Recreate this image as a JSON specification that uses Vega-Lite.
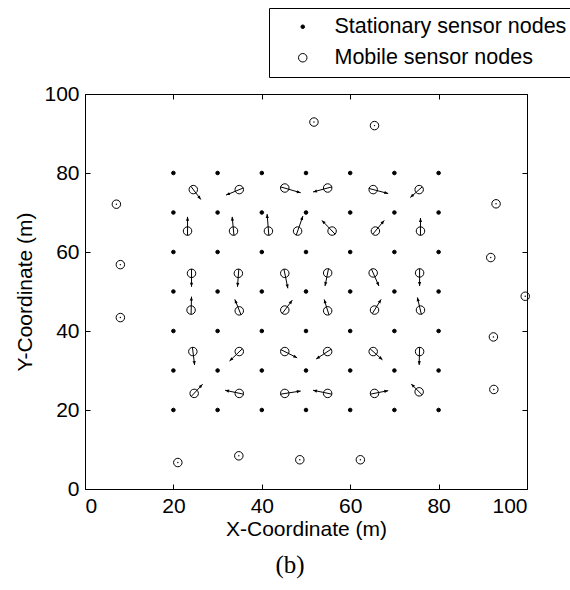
{
  "$schema": "https://vega.github.io/schema/vega-lite/v6.json",
  "width": 442,
  "height": 395,
  "autosize": {"type": "none"},
  "padding": {"left": 85, "top": 94, "right": 43, "bottom": 101},
  "background": "white",
  "config": {
    "view": {"stroke": "black", "strokeWidth": 1},
    "font": "Liberation Sans",
    "axis": {
      "grid": false,
      "domain": false,
      "tickColor": "black",
      "tickWidth": 1,
      "labelColor": "black",
      "labelFont": "Liberation Sans",
      "labelFontSize": 21,
      "titleFont": "Liberation Sans",
      "titleFontSize": 21,
      "titleFontWeight": "normal",
      "titleColor": "black"
    }
  },
  "title": {
    "text": "(b)",
    "orient": "bottom",
    "anchor": "middle",
    "font": "Liberation Serif",
    "fontSize": 25,
    "fontWeight": "normal",
    "color": "black",
    "offset": 14,
    "dx": -16
  },
  "data": {
    "values": [
      {"type": "Stationary sensor nodes", "x": 20, "y": 20}, {"type": "Stationary sensor nodes", "x": 30, "y": 20}, {"type": "Stationary sensor nodes", "x": 40, "y": 20}, {"type": "Stationary sensor nodes", "x": 50, "y": 20}, {"type": "Stationary sensor nodes", "x": 60, "y": 20}, {"type": "Stationary sensor nodes", "x": 70, "y": 20}, {"type": "Stationary sensor nodes", "x": 80, "y": 20},
      {"type": "Stationary sensor nodes", "x": 20, "y": 30}, {"type": "Stationary sensor nodes", "x": 30, "y": 30}, {"type": "Stationary sensor nodes", "x": 40, "y": 30}, {"type": "Stationary sensor nodes", "x": 50, "y": 30}, {"type": "Stationary sensor nodes", "x": 60, "y": 30}, {"type": "Stationary sensor nodes", "x": 70, "y": 30}, {"type": "Stationary sensor nodes", "x": 80, "y": 30},
      {"type": "Stationary sensor nodes", "x": 20, "y": 40}, {"type": "Stationary sensor nodes", "x": 30, "y": 40}, {"type": "Stationary sensor nodes", "x": 40, "y": 40}, {"type": "Stationary sensor nodes", "x": 50, "y": 40}, {"type": "Stationary sensor nodes", "x": 60, "y": 40}, {"type": "Stationary sensor nodes", "x": 70, "y": 40}, {"type": "Stationary sensor nodes", "x": 80, "y": 40},
      {"type": "Stationary sensor nodes", "x": 20, "y": 50}, {"type": "Stationary sensor nodes", "x": 30, "y": 50}, {"type": "Stationary sensor nodes", "x": 40, "y": 50}, {"type": "Stationary sensor nodes", "x": 50, "y": 50}, {"type": "Stationary sensor nodes", "x": 60, "y": 50}, {"type": "Stationary sensor nodes", "x": 70, "y": 50}, {"type": "Stationary sensor nodes", "x": 80, "y": 50},
      {"type": "Stationary sensor nodes", "x": 20, "y": 60}, {"type": "Stationary sensor nodes", "x": 30, "y": 60}, {"type": "Stationary sensor nodes", "x": 40, "y": 60}, {"type": "Stationary sensor nodes", "x": 50, "y": 60}, {"type": "Stationary sensor nodes", "x": 60, "y": 60}, {"type": "Stationary sensor nodes", "x": 70, "y": 60}, {"type": "Stationary sensor nodes", "x": 80, "y": 60},
      {"type": "Stationary sensor nodes", "x": 20, "y": 70}, {"type": "Stationary sensor nodes", "x": 30, "y": 70}, {"type": "Stationary sensor nodes", "x": 40, "y": 70}, {"type": "Stationary sensor nodes", "x": 50, "y": 70}, {"type": "Stationary sensor nodes", "x": 60, "y": 70}, {"type": "Stationary sensor nodes", "x": 70, "y": 70}, {"type": "Stationary sensor nodes", "x": 80, "y": 70},
      {"type": "Stationary sensor nodes", "x": 20, "y": 80}, {"type": "Stationary sensor nodes", "x": 30, "y": 80}, {"type": "Stationary sensor nodes", "x": 40, "y": 80}, {"type": "Stationary sensor nodes", "x": 50, "y": 80}, {"type": "Stationary sensor nodes", "x": 60, "y": 80}, {"type": "Stationary sensor nodes", "x": 70, "y": 80}, {"type": "Stationary sensor nodes", "x": 80, "y": 80},
      {"type": "Mobile sensor nodes", "x": 51.8, "y": 92.9}, {"type": "Mobile sensor nodes", "x": 65.5, "y": 92.0},
      {"type": "Mobile sensor nodes", "x": 7.1, "y": 72.1}, {"type": "Mobile sensor nodes", "x": 8.0, "y": 56.8}, {"type": "Mobile sensor nodes", "x": 8.0, "y": 43.4},
      {"type": "Mobile sensor nodes", "x": 93.0, "y": 72.2}, {"type": "Mobile sensor nodes", "x": 91.8, "y": 58.6}, {"type": "Mobile sensor nodes", "x": 99.6, "y": 48.8}, {"type": "Mobile sensor nodes", "x": 92.4, "y": 38.5}, {"type": "Mobile sensor nodes", "x": 92.5, "y": 25.2},
      {"type": "Mobile sensor nodes", "x": 21.0, "y": 6.7}, {"type": "Mobile sensor nodes", "x": 34.8, "y": 8.4}, {"type": "Mobile sensor nodes", "x": 48.6, "y": 7.4}, {"type": "Mobile sensor nodes", "x": 62.3, "y": 7.4},
      {"type": "Mobile sensor nodes", "x": 24.5, "y": 75.8, "x0": 23.9, "y0": 76.7, "x1": 26.2, "y1": 73.3, "heading": 144},
      {"type": "Mobile sensor nodes", "x": 34.9, "y": 75.8, "x0": 35.8, "y0": 76.2, "x1": 31.9, "y1": 74.4, "heading": 247},
      {"type": "Mobile sensor nodes", "x": 45.2, "y": 76.2, "x0": 44.2, "y0": 76.5, "x1": 48.8, "y1": 75.0, "heading": 106},
      {"type": "Mobile sensor nodes", "x": 54.9, "y": 76.2, "x0": 55.9, "y0": 76.5, "x1": 51.6, "y1": 75.2, "heading": 255},
      {"type": "Mobile sensor nodes", "x": 65.2, "y": 75.8, "x0": 64.2, "y0": 76.1, "x1": 68.6, "y1": 74.8, "heading": 105},
      {"type": "Mobile sensor nodes", "x": 75.6, "y": 75.8, "x0": 76.3, "y0": 76.5, "x1": 73.6, "y1": 73.8, "heading": 227},
      {"type": "Mobile sensor nodes", "x": 23.2, "y": 65.3, "x0": 23.2, "y0": 64.2, "x1": 23.2, "y1": 68.9, "heading": 0},
      {"type": "Mobile sensor nodes", "x": 33.6, "y": 65.3, "x0": 33.7, "y0": 64.2, "x1": 33.3, "y1": 68.9, "heading": -4},
      {"type": "Mobile sensor nodes", "x": 41.5, "y": 65.3, "x0": 41.6, "y0": 64.2, "x1": 41.2, "y1": 69.6, "heading": -3},
      {"type": "Mobile sensor nodes", "x": 48.1, "y": 65.3, "x0": 47.8, "y0": 64.3, "x1": 49.3, "y1": 69.1, "heading": 20},
      {"type": "Mobile sensor nodes", "x": 55.9, "y": 65.3, "x0": 56.6, "y0": 64.5, "x1": 53.6, "y1": 68.0, "heading": -44},
      {"type": "Mobile sensor nodes", "x": 65.7, "y": 65.3, "x0": 65.1, "y0": 64.5, "x1": 67.7, "y1": 68.0, "heading": 40},
      {"type": "Mobile sensor nodes", "x": 75.9, "y": 65.3, "x0": 75.9, "y0": 64.2, "x1": 75.9, "y1": 68.6, "heading": 0},
      {"type": "Mobile sensor nodes", "x": 24.1, "y": 54.6, "x0": 24.1, "y0": 55.7, "x1": 24.1, "y1": 51.2, "heading": 180},
      {"type": "Mobile sensor nodes", "x": 34.7, "y": 54.6, "x0": 34.8, "y0": 55.7, "x1": 34.5, "y1": 51.2, "heading": 184},
      {"type": "Mobile sensor nodes", "x": 45.2, "y": 54.6, "x0": 45.0, "y0": 55.7, "x1": 45.9, "y1": 50.8, "heading": 168},
      {"type": "Mobile sensor nodes", "x": 54.9, "y": 54.7, "x0": 55.1, "y0": 55.8, "x1": 54.3, "y1": 51.4, "heading": 192},
      {"type": "Mobile sensor nodes", "x": 65.2, "y": 54.7, "x0": 64.8, "y0": 55.7, "x1": 66.5, "y1": 51.4, "heading": 156},
      {"type": "Mobile sensor nodes", "x": 75.7, "y": 54.7, "x0": 75.7, "y0": 55.8, "x1": 75.7, "y1": 51.4, "heading": 180},
      {"type": "Mobile sensor nodes", "x": 24.0, "y": 45.3, "x0": 24.0, "y0": 44.2, "x1": 24.1, "y1": 48.7, "heading": 3},
      {"type": "Mobile sensor nodes", "x": 34.9, "y": 45.1, "x0": 35.3, "y0": 44.1, "x1": 33.9, "y1": 48.0, "heading": -22},
      {"type": "Mobile sensor nodes", "x": 45.2, "y": 45.3, "x0": 44.6, "y0": 44.4, "x1": 46.9, "y1": 47.8, "heading": 37},
      {"type": "Mobile sensor nodes", "x": 54.9, "y": 45.1, "x0": 55.2, "y0": 44.1, "x1": 54.1, "y1": 48.0, "heading": -18},
      {"type": "Mobile sensor nodes", "x": 65.5, "y": 45.3, "x0": 65.0, "y0": 44.4, "x1": 67.0, "y1": 48.0, "heading": 32},
      {"type": "Mobile sensor nodes", "x": 75.9, "y": 45.3, "x0": 76.1, "y0": 44.2, "x1": 75.2, "y1": 48.5, "heading": -13},
      {"type": "Mobile sensor nodes", "x": 24.4, "y": 34.8, "x0": 24.3, "y0": 35.9, "x1": 24.8, "y1": 31.4, "heading": 173},
      {"type": "Mobile sensor nodes", "x": 34.9, "y": 34.8, "x0": 35.6, "y0": 35.5, "x1": 32.7, "y1": 32.4, "heading": 227},
      {"type": "Mobile sensor nodes", "x": 45.2, "y": 34.8, "x0": 44.3, "y0": 35.3, "x1": 48.0, "y1": 33.2, "heading": 117},
      {"type": "Mobile sensor nodes", "x": 54.9, "y": 34.8, "x0": 55.7, "y0": 35.4, "x1": 52.3, "y1": 32.9, "heading": 237},
      {"type": "Mobile sensor nodes", "x": 65.2, "y": 34.8, "x0": 64.5, "y0": 35.5, "x1": 67.3, "y1": 32.7, "heading": 132},
      {"type": "Mobile sensor nodes", "x": 75.7, "y": 34.8, "x0": 75.7, "y0": 35.9, "x1": 75.6, "y1": 31.4, "heading": 183},
      {"type": "Mobile sensor nodes", "x": 24.7, "y": 24.2, "x0": 24.0, "y0": 23.4, "x1": 26.6, "y1": 26.5, "heading": 44},
      {"type": "Mobile sensor nodes", "x": 34.9, "y": 24.2, "x0": 35.9, "y0": 24.0, "x1": 31.7, "y1": 25.0, "heading": -77},
      {"type": "Mobile sensor nodes", "x": 45.2, "y": 24.2, "x0": 44.2, "y0": 24.0, "x1": 48.8, "y1": 24.8, "heading": 82},
      {"type": "Mobile sensor nodes", "x": 54.9, "y": 24.2, "x0": 55.9, "y0": 24.0, "x1": 51.6, "y1": 25.0, "heading": -77},
      {"type": "Mobile sensor nodes", "x": 65.5, "y": 24.2, "x0": 64.5, "y0": 24.0, "x1": 68.6, "y1": 24.9, "heading": 79},
      {"type": "Mobile sensor nodes", "x": 75.6, "y": 24.6, "x0": 76.3, "y0": 23.8, "x1": 73.8, "y1": 26.6, "heading": -45}
    ]
  },
  "layer": [
    {
      "mark": {"type": "point", "filled": true, "stroke": "black", "strokeWidth": 1, "opacity": 1},
      "encoding": {
        "x": {
          "field": "x", "type": "quantitative",
          "scale": {"domain": [0, 100], "nice": false, "zero": false},
          "axis": {"orient": "bottom", "values": [0, 20, 40, 60, 80, 100], "tickSize": -5, "labelPadding": 11, "title": "X-Coordinate (m)", "titlePadding": 2}
        },
        "y": {
          "field": "y", "type": "quantitative",
          "scale": {"domain": [0, 100], "nice": false, "zero": false},
          "axis": {"orient": "left", "values": [0, 20, 40, 60, 80, 100], "tickSize": -5, "labelPadding": 11, "title": "Y-Coordinate (m)", "titlePadding": 8}
        },
        "fill": {
          "field": "type", "type": "nominal",
          "scale": {"domain": ["Stationary sensor nodes", "Mobile sensor nodes"], "range": ["black", "transparent"]},
          "legend": {
            "title": null, "orient": "none", "legendX": 184, "legendY": -86,
            "strokeColor": "black", "fillColor": "white", "padding": 8, "cornerRadius": 0,
            "labelFont": "Liberation Sans", "labelFontSize": 21.5, "labelColor": "black", "labelLimit": 0,
            "symbolStrokeColor": "black", "symbolStrokeWidth": 1,
            "rowPadding": 8, "symbolOffset": 15, "labelOffset": 21
          }
        },
        "size": {
          "field": "type", "type": "nominal",
          "scale": {"domain": ["Stationary sensor nodes", "Mobile sensor nodes"], "range": [13, 72]}
        },
        "shape": {
          "field": "type", "type": "nominal",
          "scale": {"domain": ["Stationary sensor nodes", "Mobile sensor nodes"], "range": ["circle", "circle"]}
        }
      }
    },
    {
      "transform": [{"filter": "isValid(datum.heading)"}],
      "mark": {"type": "rule", "color": "black", "strokeWidth": 1},
      "encoding": {
        "x": {
          "field": "x0", "type": "quantitative",
          "scale": {"domain": [0, 100], "nice": false, "zero": false},
          "axis": {"orient": "top", "values": [0, 20, 40, 60, 80, 100], "tickSize": -5, "labels": false, "title": null}
        },
        "y": {
          "field": "y0", "type": "quantitative",
          "scale": {"domain": [0, 100], "nice": false, "zero": false},
          "axis": {"orient": "right", "values": [0, 20, 40, 60, 80, 100], "tickSize": -5, "labels": false, "title": null}
        },
        "x2": {"field": "x1"},
        "y2": {"field": "y1"}
      }
    },
    {
      "transform": [{"filter": "isValid(datum.heading)"}],
      "mark": {"type": "point", "shape": "M0,0L-0.45,1.1L0.45,1.1Z", "filled": true, "color": "black", "size": 50, "opacity": 1},
      "encoding": {
        "x": {"field": "x1", "type": "quantitative", "scale": {"domain": [0, 100], "nice": false, "zero": false}, "axis": null},
        "y": {"field": "y1", "type": "quantitative", "scale": {"domain": [0, 100], "nice": false, "zero": false}, "axis": null},
        "angle": {"field": "heading", "type": "quantitative", "scale": null}
      }
    },
    {
      "transform": [{"filter": "datum.type == 'Mobile sensor nodes' && !isValid(datum.heading)"}],
      "mark": {"type": "point", "shape": "circle", "filled": true, "color": "black", "size": 2, "opacity": 1},
      "encoding": {
        "x": {"field": "x", "type": "quantitative", "scale": {"domain": [0, 100], "nice": false, "zero": false}, "axis": null},
        "y": {"field": "y", "type": "quantitative", "scale": {"domain": [0, 100], "nice": false, "zero": false}, "axis": null}
      }
    }
  ],
  "resolve": {"axis": {"x": "independent", "y": "independent"}}
}
